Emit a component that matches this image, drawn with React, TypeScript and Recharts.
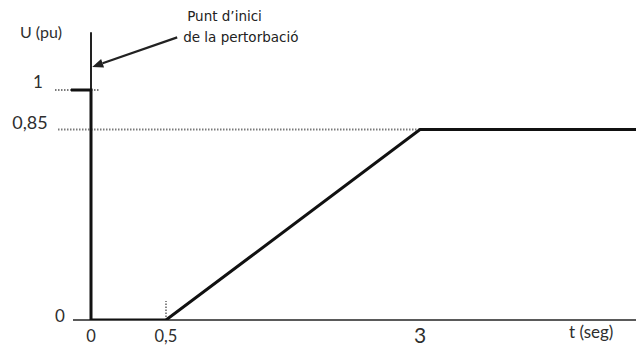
import React from "react";
import { LineChart, Line, XAxis, YAxis, ReferenceLine } from "recharts";

// Voltage dip profile: U (pu) against t (s)
const timeSec = [-0.2, 0, 0, 0.5, 3, 5.2];
const voltagePu = [1, 1, 0, 0, 0.85, 0.85];

const xTicks = [0, 0.5, 3];
const yTicks = [0, 0.85, 1];

const xDomain: [number, number] = [-0.9, 5.2];
const yDomain: [number, number] = [0, 1.39];

// The time axis of the sketch is not drawn to scale: each stretch between
// break values gets its own share of the axis length.
const xBreaks = [-0.9, 0, 0.5, 3, 5.2];
const xShares = [0, 90, 165, 419, 635];
const yBreaks = [0, 0.85, 1, 1.39];
const yShares = [0, 190.5, 230, 320];

const data = timeSec.map((t, i) => ({ t, u: voltagePu[i] }));

const fmt = (v: number) => String(v).replace(".", ",");

// Piecewise-linear scale usable as a Recharts custom scale.
function brokenScale(breaks: number[], shares: number[]): any {
  let dom: number[] = [breaks[0], breaks[breaks.length - 1]];
  let rng: number[] = [0, 1];
  const warp = (v: number) => {
    const n = breaks.length;
    let i = 1;
    while (i < n - 1 && v > breaks[i]) i++;
    const b0 = breaks[i - 1];
    const b1 = breaks[i];
    return shares[i - 1] + ((v - b0) / (b1 - b0)) * (shares[i] - shares[i - 1]);
  };
  const scale: any = (v: number) => {
    const w0 = warp(dom[0]);
    const w1 = warp(dom[1]);
    return rng[0] + ((warp(Number(v)) - w0) / (w1 - w0)) * (rng[1] - rng[0]);
  };
  scale.domain = (d?: any[]) => {
    if (!d) return dom.slice();
    dom = [Number(d[0]), Number(d[d.length - 1])];
    return scale;
  };
  scale.range = (r?: number[]) => {
    if (!r) return rng.slice();
    rng = [r[0], r[r.length - 1]];
    return scale;
  };
  scale.copy = () => brokenScale(breaks, shares).domain(dom).range(rng);
  scale.ticks = () => breaks.slice();
  scale.invert = (px: number) => {
    let best = dom[0];
    let err = Infinity;
    for (let k = 0; k <= 400; k++) {
      const v = dom[0] + ((dom[1] - dom[0]) * k) / 400;
      const e = Math.abs(scale(v) - px);
      if (e < err) {
        err = e;
        best = v;
      }
    }
    return best;
  };
  scale.clamp = () => scale;
  scale.nice = () => scale;
  return scale;
}

const xScale = brokenScale(xBreaks, xShares);
const yScale = brokenScale(yBreaks, yShares);

const labelFont = "Lato, 'Open Sans', sans-serif";
const noteFont = "'DejaVu Sans', Verdana, sans-serif";
const ink = "#222";
const dotted = "#7a7a7a";

const yLabelLayout: Record<string, { x: number; dy: number; size: number }> = {
  "0": { x: 60, dy: -5, size: 17 },
  "0.85": { x: 30, dy: -8, size: 18 },
  "1": { x: 38, dy: -9, size: 17 },
};

const YTick = (props: any) => {
  const { y, payload } = props;
  const l = yLabelLayout[String(payload.value)];
  if (!l) return <g />;
  return (
    <text
      x={l.x}
      y={y + l.dy}
      textAnchor="middle"
      dominantBaseline="central"
      fontFamily={labelFont}
      fontSize={l.size}
      fill="#2e2e2e"
    >
      {fmt(payload.value)}
    </text>
  );
};

const XTick = (props: any) => {
  const { x, payload } = props;
  const big = payload.value === 3;
  return (
    <text
      x={x}
      y={big ? 334 : 336}
      textAnchor="middle"
      dominantBaseline="central"
      fontFamily={labelFont}
      fontSize={big ? 21 : 16.5}
      fill="#2e2e2e"
    >
      {fmt(payload.value)}
    </text>
  );
};

// Arrow with its note, drawn from the tail (x1,y1) to the tip (x2,y2)
const NoteArrow = (props: any) => {
  const { x1, y1, x2, y2 } = props;
  const ang = Math.atan2(y2 - y1, x2 - x1);
  const len = 11;
  const half = 4.5;
  const bx = x2 - len * Math.cos(ang);
  const by = y2 - len * Math.sin(ang);
  const px = -Math.sin(ang) * half;
  const py = Math.cos(ang) * half;
  return (
    <g>
      <line x1={x1} y1={y1} x2={bx} y2={by} stroke={ink} strokeWidth={2.2} />
      <polygon
        points={`${x2},${y2} ${bx + px},${by + py} ${bx - px},${by - py}`}
        fill={ink}
      />
      <text x={x1 + 10} y={y1 - 16} fontFamily={noteFont} fontSize={13.5} fill={ink}>
        Punt d’inici
      </text>
      <text x={x1 + 6} y={y1 + 5} fontFamily={noteFont} fontSize={13.5} fill={ink}>
        de la pertorbació
      </text>
    </g>
  );
};

export default function App() {
  return (
    <div style={{ width: 636, height: 345, background: "#fff" }}>
      <style>{"html,body{margin:0;padding:0;background:#fff;}"}</style>
      <LineChart
        width={636}
        height={345}
        data={data}
        margin={{ top: 0, right: 0, bottom: 0, left: 0 }}
      >
        <XAxis
          dataKey="t"
          type="number"
          domain={xDomain}
          scale={xScale}
          ticks={xTicks}
          height={25}
          axisLine={false}
          tickLine={false}
          tick={XTick}
          interval={0}
          allowDataOverflow
        />
        <YAxis
          type="number"
          domain={yDomain}
          scale={yScale}
          ticks={yTicks}
          width={1}
          axisLine={false}
          tickLine={false}
          tick={YTick}
          interval={0}
          allowDataOverflow
        />

        {/* guide lines */}
        <ReferenceLine
          segment={[{ x: -0.36, y: 1 }, { x: 0.06, y: 1 }]}
          stroke={dotted}
          strokeWidth={1.8}
          strokeDasharray="1.5 1.5"
        />
        <ReferenceLine
          segment={[{ x: -0.33, y: 0.85 }, { x: 3, y: 0.85 }]}
          stroke={dotted}
          strokeWidth={1.8}
          strokeDasharray="1.5 1.5"
        />
        <ReferenceLine
          segment={[{ x: 0.5, y: 0 }, { x: 0.5, y: 0.085 }]}
          stroke={dotted}
          strokeWidth={1.8}
          strokeDasharray="1.5 1.5"
        />
        <ReferenceLine
          segment={[{ x: 3, y: -0.01 }, { x: 3, y: 0.85 }]}
          stroke={dotted}
          strokeWidth={1.8}
          strokeDasharray="1.5 1.5"
        />

        {/* axes */}
        <ReferenceLine
          segment={[{ x: -0.18, y: 0 }, { x: 5.2, y: 0 }]}
          stroke="#5a5a5a"
          strokeWidth={2.2}
        />
        <ReferenceLine
          segment={[{ x: 0, y: 0 }, { x: 0, y: 1.25 }]}
          stroke={ink}
          strokeWidth={2}
        />

        <Line
          dataKey="u"
          type="linear"
          stroke="#111"
          strokeWidth={3}
          dot={false}
          activeDot={false}
          isAnimationActive={false}
          strokeLinejoin="miter"
        />

        <ReferenceLine
          segment={[{ x: 0.61, y: 1.228 }, { x: 0.008, y: 1.1 }]}
          shape={NoteArrow}
        />

        <text x={20} y={31} dominantBaseline="central" fontFamily={labelFont} fontSize={16} fill="#2e2e2e">
          U (pu)
        </text>
        <text x={569} y={331} dominantBaseline="central" fontFamily={labelFont} fontSize={17} fill="#2e2e2e">
          t (seg)
        </text>
      </LineChart>
    </div>
  );
}
